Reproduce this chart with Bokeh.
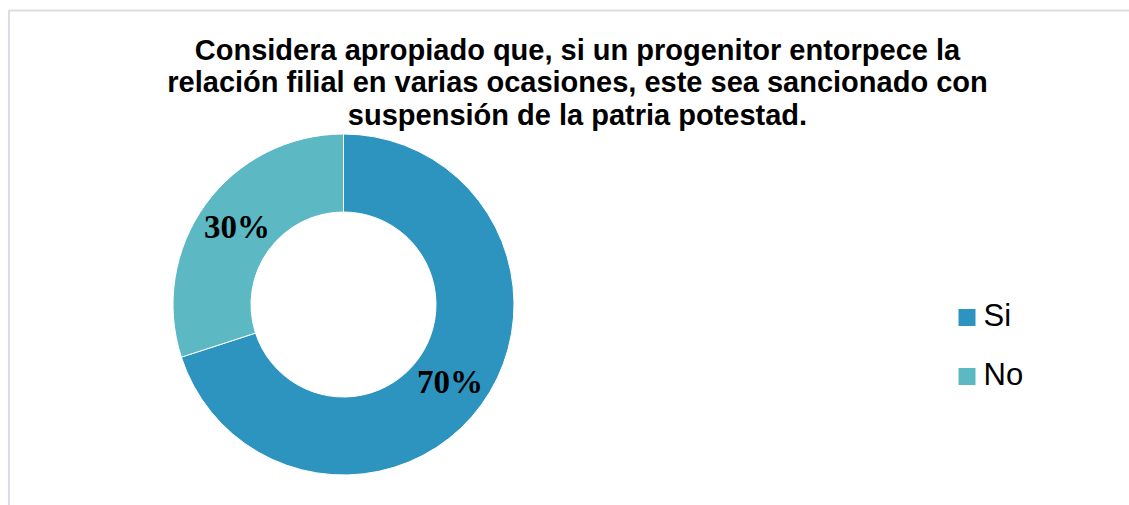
import math
from bokeh.plotting import figure
from bokeh.models import Range1d, ColumnDataSource
from bokeh.core.properties import value
from bokeh.embed import file_html
from bokeh.resources import INLINE

# ---- data ----
categories = ["Si", "No"]
percent_values = [70, 30]
label_texts = ["70%", "30%"]
slice_colors = ["#2d94c0", "#5cb9c3"]
title_lines = [
    "Considera apropiado que, si un progenitor entorpece la",
    "relación filial en varias ocasiones, este sea sancionado con",
    "suspensión de la patria potestad.",
]

W, H = 1129, 505
p = figure(width=W, height=H, output_backend="svg", toolbar_location=None,
           x_range=Range1d(0, W), y_range=Range1d(0, H), min_border=0)
p.axis.visible = False
p.grid.visible = False
p.outline_line_color = None
p.background_fill_color = "white"
p.border_fill_color = "white"

# chart frame border (top and left visible)
p.line(x=[8.5, 8.5, W], y=[0, 495, 495], line_color="#dcdce6", line_width=2)

# donut geometry (layout)
cx, cy = 343, 201
r_out, r_in = 170.5, 92.5
r_mid = (r_out + r_in) / 2

total = float(sum(percent_values))
starts, ends, lx, ly = [], [], [], []
cum = 0.0
for v in percent_values:
    a0 = math.pi / 2 - 2 * math.pi * cum / total
    cum += v
    a1 = math.pi / 2 - 2 * math.pi * cum / total
    starts.append(a0)
    ends.append(a1)
    am = (a0 + a1) / 2
    lx.append(cx + r_mid * math.cos(am))
    ly.append(cy + r_mid * math.sin(am))

src = ColumnDataSource(dict(cat=categories, val=percent_values, start=starts, end=ends,
                            color=slice_colors, lx=lx, ly=ly, lab=label_texts))

p.annular_wedge(x=cx, y=cy, inner_radius=r_in, outer_radius=r_out,
                start_angle="start", end_angle="end", direction="clock",
                fill_color="color", line_color="white", line_width=1, source=src)

p.text(x="lx", y="ly", text="lab", source=src, text_align="center",
       text_baseline="middle", text_font=value("Liberation Serif"),
       text_font_style="bold", text_font_size="33px", text_color="black")

# title
title_x = [577] * len(title_lines)
title_y = [456 - 32.5 * i for i in range(len(title_lines))]
p.text(x=title_x, y=title_y, text=title_lines, text_align="center",
       text_baseline="alphabetic", text_font=value("Liberation Sans"),
       text_font_style="bold", text_font_size="29px", text_color="black")

# legend
leg_y = [188 - 59 * i for i in range(len(categories))]
p.scatter(x=[966.5] * len(categories), y=leg_y, marker="square", size=17,
          fill_color=slice_colors, line_color=None)
p.text(x=[983] * len(categories), y=[y + 2 for y in leg_y], text=categories,
       text_align="left", text_baseline="middle", text_font=value("Liberation Sans"),
       text_font_size="31px", text_color="black")

open("out.html", "w").write(file_html(p, INLINE))
